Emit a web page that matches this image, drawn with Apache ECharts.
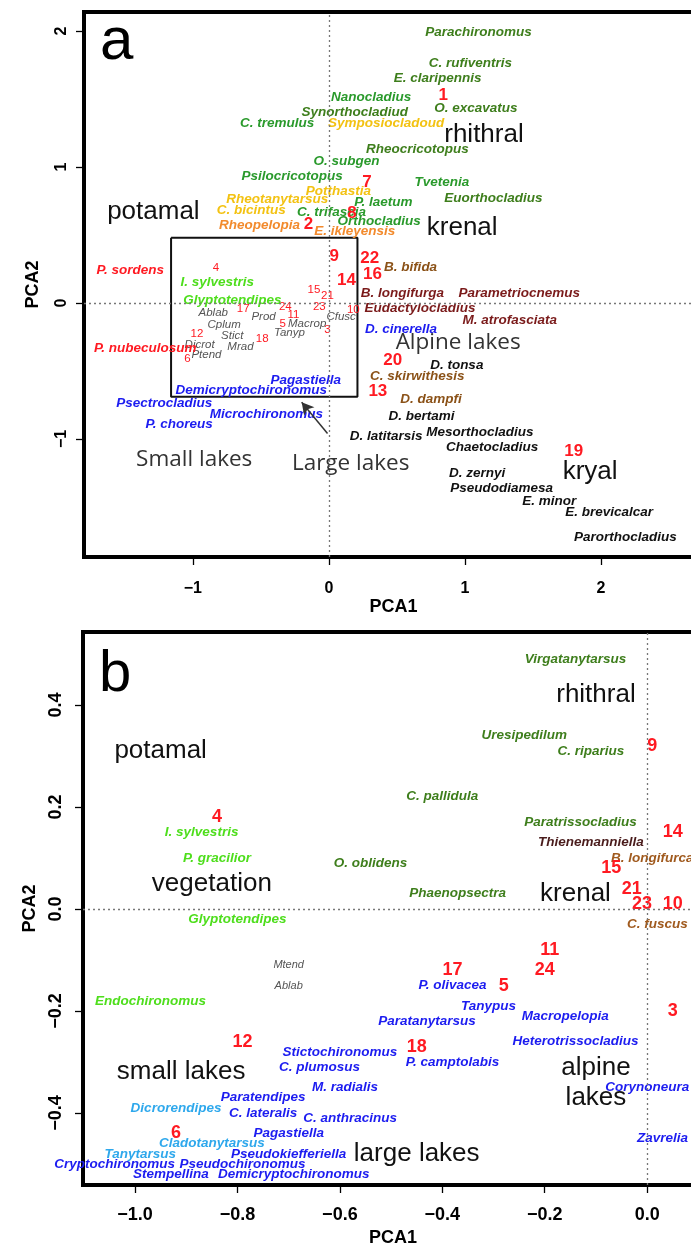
<!DOCTYPE html>
<html>
<head>
<meta charset="utf-8">
<script src="https://cdn.jsdelivr.net/npm/echarts@6/dist/echarts.min.js"></script>
<style>
html,body{margin:0;padding:0;background:#fff;overflow:hidden;}
#c{width:720px;height:1248px;}
</style>
</head>
<body>
<div id="c"></div>
<script>
// ---------- Panel a (PCA1 / PCA2) : [x, y, label] ----------
const aDarkGreen = [[1.10,1.99,'Parachironomus'],[1.04,1.76,'C. rufiventris'],[0.80,1.65,'E. claripennis'],[1.08,1.43,'O. excavatus'],[0.19,1.40,'Synorthocladiud'],[0.65,1.13,'Rheocricotopus'],[1.21,0.77,'Euorthocladius']];
const aGreen = [[0.31,1.51,'Nanocladius'],[-0.38,1.32,'C. tremulus'],[0.13,1.04,'O. subgen'],[-0.27,0.93,'Psilocricotopus'],[0.83,0.89,'Tvetenia'],[0.40,0.74,'P. laetum'],[0.02,0.67,'C. trifascia'],[0.37,0.60,'Orthocladius']];
const aYellow = [[0.42,1.32,'Symposiocladoud'],[0.07,0.82,'Potthastia'],[-0.38,0.76,'Rheotanytarsus'],[-0.57,0.68,'C. bicintus']];
const aOrange = [[-0.51,0.57,'Rheopelopia'],[0.19,0.53,'E. ikleyensis']];
const aRed = [[-1.46,0.24,'P. sordens'],[-1.35,-0.33,'P. nubeculosum']];
const aLime = [[-0.82,0.15,'I. sylvestris'],[-0.71,0.02,'Glyptotendipes']];
const aBrown = [[0.60,0.26,'B. bifida'],[0.65,-0.54,'C. skirwithesis'],[0.75,-0.71,'D. dampfi']];
const aMaroon = [[0.54,0.07,'B. longifurga'],[1.40,0.07,'Parametriocnemus'],[0.67,-0.04,'Eudactylocladius'],[1.33,-0.13,'M. atrofasciata']];
const aBlue = [[0.53,-0.19,'D. cinerella'],[-0.17,-0.57,'Pagastiella'],[-0.57,-0.64,'Demicryptochironomus'],[-1.21,-0.74,'Psectrocladius'],[-0.46,-0.82,'Microchironomus'],[-1.10,-0.89,'P. choreus']];
const aBlack = [[0.94,-0.46,'D. tonsa'],[0.68,-0.83,'D. bertami'],[0.42,-0.98,'D. latitarsis'],[1.11,-0.95,'Mesorthocladius'],[1.20,-1.06,'Chaetocladius'],[1.09,-1.25,'D. zernyi'],[1.27,-1.36,'Pseudodiamesa'],[1.62,-1.46,'E. minor'],[2.06,-1.54,'E. brevicalcar'],[2.18,-1.72,'Parorthocladius']];
const aGray = [[-0.85,-0.07,'Ablab'],[-0.48,-0.10,'Prod'],[0.09,-0.10,'Cfusc'],[-0.77,-0.16,'Cplum'],[-0.16,-0.15,'Macrop'],[-0.71,-0.24,'Stict'],[-0.29,-0.22,'Tanyp'],[-0.95,-0.31,'Dicrot'],[-0.65,-0.32,'Mrad'],[-0.90,-0.38,'Ptend']];
const aSmallNum = [[-0.83,0.26,'4'],[-0.11,0.10,'15'],[-0.01,0.05,'21'],[-0.63,-0.04,'17'],[-0.32,-0.03,'24'],[-0.07,-0.03,'23'],[0.18,-0.05,'10'],[-0.26,-0.09,'11'],[-0.34,-0.15,'5'],[-0.01,-0.20,'3'],[-0.97,-0.23,'12'],[-0.49,-0.26,'18'],[-1.04,-0.41,'6']];
const aBigNum = [[0.84,1.53,'1'],[0.28,0.89,'7'],[-0.15,0.58,'2'],[0.17,0.66,'8'],[0.04,0.34,'9'],[0.30,0.33,'22'],[0.13,0.17,'14'],[0.32,0.21,'16'],[0.47,-0.42,'20'],[0.36,-0.65,'13'],[1.80,-1.09,'19']];
const aRegions = [[1.14,1.24,'rhithral'],[-1.29,0.67,'potamal'],[0.98,0.55,'krenal'],[1.92,-1.24,'kryal']];
const aLakes = [[0.95,-0.29,'Alpine lakes'],[-0.99,-1.15,'Small lakes'],[0.16,-1.18,'Large lakes']];
const aBox = [[-1.16,0.48],[0.21,0.48],[0.21,-0.69],[-1.16,-0.69],[-1.16,0.48]];
const aArrow = [[-0.01,-0.96],[-0.20,-0.73]];
const aTicksX = [-1,0,1,2];
const aTicksY = [-1,0,1,2];

// ---------- Panel b ----------
const bDarkGreen = [[-0.14,0.49,'Virgatanytarsus'],[-0.24,0.34,'Uresipedilum'],[-0.11,0.31,'C. riparius'],[-0.40,0.22,'C. pallidula'],[-0.13,0.17,'Paratrissocladius'],[-0.54,0.09,'O. oblidens'],[-0.37,0.03,'Phaenopsectra']];
const bLime = [[-0.87,0.15,'I. sylvestris'],[-0.84,0.10,'P. gracilior'],[-0.80,-0.02,'Glyptotendipes'],[-0.97,-0.18,'Endochironomus']];
const bBlue = [[-0.38,-0.15,'P. olivacea'],[-0.31,-0.19,'Tanypus'],[-0.43,-0.22,'Paratanytarsus'],[-0.16,-0.21,'Macropelopia'],[-0.14,-0.26,'Heterotrissocladius'],[-0.38,-0.30,'P. camptolabis'],[-0.60,-0.28,'Stictochironomus'],[-0.64,-0.31,'C. plumosus'],[-0.59,-0.35,'M. radialis'],[-0.75,-0.37,'Paratendipes'],[-0.75,-0.40,'C. lateralis'],[-0.58,-0.41,'C. anthracinus'],[-0.70,-0.44,'Pagastiella'],[-0.70,-0.48,'Pseudokiefferiella'],[-1.04,-0.50,'Cryptochironomus'],[-0.79,-0.50,'Pseudochironomus'],[-0.93,-0.52,'Stempellina'],[-0.69,-0.52,'Demicryptochironomus'],[0.00,-0.35,'Corynoneura'],[0.03,-0.45,'Zavrelia']];
const bLightBlue = [[-0.92,-0.39,'Dicrorendipes'],[-0.85,-0.46,'Cladotanytarsus'],[-0.99,-0.48,'Tanytarsus']];
const bBrown = [[0.01,0.10,'B. longifurca'],[0.02,-0.03,'C. fuscus']];
const bMaroon = [[-0.11,0.13,'Thienemanniella']];
const bGray = [[-0.70,-0.11,'Mtend'],[-0.70,-0.15,'Ablab']];
const bNum = [[-0.84,0.18,'4'],[0.01,0.32,'9'],[0.05,0.15,'14'],[-0.07,0.08,'15'],[-0.03,0.04,'21'],[-0.01,0.01,'23'],[0.05,0.01,'10'],[-0.19,-0.08,'11'],[-0.20,-0.12,'24'],[-0.38,-0.12,'17'],[-0.28,-0.15,'5'],[0.05,-0.20,'3'],[-0.79,-0.26,'12'],[-0.45,-0.27,'18'],[-0.92,-0.44,'6']];
const bRegions = [[-0.95,0.31,'potamal'],[-0.10,0.42,'rhithral'],[-0.85,0.05,'vegetation'],[-0.14,0.03,'krenal'],[-0.91,-0.32,'small lakes'],[-0.10,-0.34,'alpine\nlakes'],[-0.45,-0.48,'large lakes']];
const bTicksX = [-1.0,-0.8,-0.6,-0.4,-0.2,0.0];
const bTicksY = [-0.4,-0.2,0.0,0.2,0.4];

// ---------- styling ----------
const FONT = '"Liberation Sans", Arial, Helvetica, sans-serif';
const C = {darkGreen:'#3e7e1c', green:'#2a9a2c', yellow:'#f3c212', orange:'#f28a2c', red:'#ff1a22', lime:'#4ede1c',
  brown:'#8b5218', maroon:'#7a1a1a', blue:'#1c1cf0', black:'#111111', gray:'#555555', lightBlue:'#2ea8ec', bMaroon:'#4a1c1c', bBrown:'#a05a1e'};

function txt(g, arr, color, size, o) {
  o = o || {};
  return {
    type:'scatter', xAxisIndex:g, yAxisIndex:g, symbolSize:1, silent:true, z:o.z||3,
    itemStyle:{color:'rgba(0,0,0,0)', opacity:1}, emphasis:{disabled:true}, clip:false,
    data: arr.map(d => ({value:[d[0], d[1]], name:d[2]})),
    label:{show:true, position:'inside', formatter:'{b}', color:color, opacity:1, fontSize:size,
      fontWeight:o.bold?'bold':'normal', fontStyle:o.italic?'italic':'normal',
      fontFamily:o.family||FONT, lineHeight:o.lh||Math.round(size*1.15)}
  };
}
const SP = {bold:true, italic:true};
const SPS = 13.5;

function zeroLines(g) {
  return {
    type:'line', xAxisIndex:g, yAxisIndex:g, data:[], silent:true, z:1,
    markLine:{silent:true, symbol:'none', label:{show:false},
      lineStyle:{type:[2,3], color:'#777', width:1.3},
      data:[{xAxis:0},{yAxis:0}]}
  };
}
const minus = v => (v < 0 ? '\u2212' : '') + Math.abs(v);
const minus1 = v => (v < 0 ? '\u2212' : '') + Math.abs(v).toFixed(1);

function xAx(g, min, max, ticks, fmt, nameGap, margin, fs) {
  return {type:'value', gridIndex:g, min:min, max:max, splitLine:{show:false},
    axisLine:{show:false, onZero:false},
    axisTick:{show:true, customValues:ticks, length:8, lineStyle:{color:'#000', width:1.3}},
    axisLabel:{customValues:ticks, formatter:fmt, margin:margin, color:'#000', fontSize:fs, fontWeight:'bold', fontFamily:FONT},
    name:'PCA1', nameLocation:'middle', nameGap:nameGap,
    nameTextStyle:{color:'#000', fontSize:18, fontWeight:'bold', fontFamily:FONT}};
}
function yAx(g, min, max, ticks, fmt, nameGap, margin, fs) {
  return {type:'value', gridIndex:g, min:min, max:max, splitLine:{show:false},
    axisLine:{show:false, onZero:false},
    axisTick:{show:true, customValues:ticks, length:8, lineStyle:{color:'#000', width:1.3}},
    axisLabel:{customValues:ticks, formatter:fmt, margin:margin, rotate:90, color:'#000', fontSize:fs, fontWeight:'bold', fontFamily:FONT},
    name:'PCA2', nameLocation:'middle', nameGap:nameGap, nameRotate:90,
    nameTextStyle:{color:'#000', fontSize:18, fontWeight:'bold', fontFamily:FONT}};
}

const option = {
  animation:false,
  backgroundColor:'#fff',
  grid:[
    {left:84, top:12, width:619, height:545, show:true, borderColor:'#000', borderWidth:4, backgroundColor:'transparent'},
    {left:83, top:632, width:620, height:555, show:true, borderColor:'#000', borderWidth:4, backgroundColor:'transparent'}
  ],
  xAxis:[ xAx(0, -1.80, 2.75, aTicksX, minus, 38, 24, 16), xAx(1, -1.1016, 0.109, bTicksX, minus1, 44, 21, 18) ],
  yAxis:[ yAx(0, -1.868, 2.140, aTicksY, minus, 42, 14, 16), yAx(1, -0.541, 0.543, bTicksY, minus1, 44, 18, 18) ],
  graphic:[
    {type:'text', x:100, y:42, style:{text:'a', fontSize:60, fontFamily:FONT, fill:'#000', verticalAlign:'middle'}},
    {type:'text', x:99, y:675, style:{text:'b', fontSize:58, fontFamily:FONT, fill:'#000', verticalAlign:'middle'}}
  ],
  series:[
    zeroLines(0),
    {type:'line', xAxisIndex:0, yAxisIndex:0, data:aBox, symbol:'none', silent:true, z:2,
      lineStyle:{color:'#111', width:2}},
    {type:'line', xAxisIndex:0, yAxisIndex:0, data:[], silent:true, z:2,
      markLine:{silent:true, symbol:['none','arrow'], symbolSize:[10,12], label:{show:false},
        lineStyle:{type:'solid', color:'#333', width:1.5},
        data:[[{coord:aArrow[0]},{coord:aArrow[1]}]]}},
    txt(0, aRegions, '#111', 26),
    txt(0, aLakes, '#333', 22.5, {family:'"Open Sans", "Liberation Sans", sans-serif'}),
    txt(0, aGray, C.gray, 11.5, {italic:true}),
    txt(0, aSmallNum, C.red, 11.5),
    txt(0, aDarkGreen, C.darkGreen, SPS, SP),
    txt(0, aGreen, C.green, SPS, SP),
    txt(0, aYellow, C.yellow, SPS, SP),
    txt(0, aOrange, C.orange, SPS, SP),
    txt(0, aRed, C.red, SPS, SP),
    txt(0, aLime, C.lime, SPS, SP),
    txt(0, aBrown, C.brown, SPS, SP),
    txt(0, aMaroon, C.maroon, SPS, SP),
    txt(0, aBlue, C.blue, SPS, SP),
    txt(0, aBlack, C.black, SPS, SP),
    txt(0, aBigNum, C.red, 17, {bold:true, z:4}),

    zeroLines(1),
    txt(1, bRegions, '#111', 26, {lh:30}),
    txt(1, bGray, C.gray, 11, {italic:true}),
    txt(1, bDarkGreen, C.darkGreen, SPS, SP),
    txt(1, bLime, C.lime, SPS, SP),
    txt(1, bBlue, C.blue, SPS, SP),
    txt(1, bLightBlue, C.lightBlue, SPS, SP),
    txt(1, bBrown, C.bBrown, SPS, SP),
    txt(1, bMaroon, C.bMaroon, SPS, SP),
    txt(1, bNum, C.red, 18, {bold:true, z:4})
  ]
};
const chart = echarts.init(document.getElementById('c'), null, {renderer:'canvas'});
chart.setOption(option);
</script>
</body>
</html>
